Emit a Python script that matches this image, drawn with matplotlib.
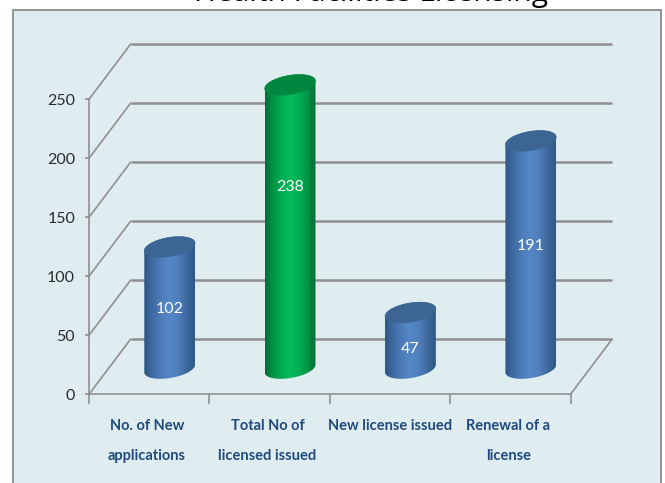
import numpy as np
import matplotlib
matplotlib.use("Agg")
import matplotlib.pyplot as plt
from matplotlib.patches import Polygon, Rectangle
from matplotlib.colors import LinearSegmentedColormap

title = "Health Facilities Licensing"
categories = ["No. of New\napplications", "Total No of\nlicensed issued",
              "New license issued", "Renewal of a\nlicense"]
values = [102, 238, 47, 191]
y_ticks = [0, 50, 100, 150, 200, 250]
is_highlight = [False, True, False, False]

W, H = 665, 483
fig = plt.figure(figsize=(W / 100, H / 100), dpi=100, facecolor="white")

# chart panel (runs off the bottom of the image)
fig.add_artist(Rectangle((13 / W, -0.05), 648 / W, 1.05 - 9.5 / H,
                         transform=fig.transFigure, facecolor="#DFECF0",
                         edgecolor="#8C8C8C", linewidth=1.3, zorder=-5))

# axes = front plane of the 3D box
L, R, B, T = 89.0, 570.5, 394.3, 99.3
ax = fig.add_axes([L / W, 1 - B / H, (R - L) / W, (B - T) / H])
ax.patch.set_alpha(0)
ax.set_xlim(0, 4)
ax.set_ylim(0, 250)
xu = (R - L) / 4       # px per category
yu = (B - T) / 250     # px per value unit
DX, DY = 41.5 / xu, 55.0 / yu  # box depth in data units

FONT = "Lato"
GRID = "#8F8F8F"

for s in ("top", "right"):
    ax.spines[s].set_visible(False)
for s in ("left", "bottom"):
    ax.spines[s].set_color(GRID)
    ax.spines[s].set_linewidth(1.2)

ax.set_yticks(y_ticks)
ax.set_xticks(range(5))
ax.set_xticklabels([])
ax.tick_params(axis="y", length=3, width=1.2, color=GRID, pad=7,
               labelcolor="#2B2B2B", labelsize=11.5)
ax.tick_params(axis="x", length=7, width=1.2, color=GRID)
for lab in ax.get_yticklabels():
    lab.set_family(FONT)

# back wall grid lines and side wall diagonals
for v in y_ticks:
    ax.plot([0, DX], [v, v + DY], color=GRID, lw=1.2, clip_on=False, zorder=1)
    ax.plot([DX, 4 + DX], [v + DY, v + DY], color=GRID, lw=1.8, clip_on=False,
            zorder=1, solid_capstyle="butt")
ax.plot([4, 4 + DX], [0, DY], color=GRID, lw=1.2, clip_on=False, zorder=1)

# cylinders
blue = LinearSegmentedColormap.from_list(
    "b", ["#2C5685", "#3F6CA3", "#4F7DBB", "#5587C8", "#4F7FBC", "#3F6A9F", "#2F5885"])
green = LinearSegmentedColormap.from_list(
    "g", ["#006F38", "#009647", "#00AE52", "#00BC58", "#00AE52", "#009647", "#006B36"])
shade = np.linspace(0, 1, 128).reshape(1, -1)

HW = 25.4 / xu         # half width
SK = 3.8 / yu          # tilt of the ellipses
EB = 9.6 / yu          # half height of the ellipses
BX, BY = 20.5 / xu, 25.8 / yu  # base centre depth offset
FORESHORTEN = 1.01
label_frac = [0.49, 0.64, 0.35, 0.54]

t = np.linspace(0, np.pi, 60)
for i, v in enumerate(values):
    cx = i + 0.5 + BX
    y0, y1 = BY, BY + v * FORESHORTEN
    # lower half of the base ellipse, left to right (left end sits lower)
    bx = cx - HW * np.cos(t)
    by = y0 - SK * np.cos(t) - EB * np.sin(t)
    # lower half of the top ellipse, right to left
    tx = bx[::-1]
    ty = y1 - SK * np.cos(t[::-1]) - EB * np.sin(t[::-1])
    # upper half of the top ellipse, for the cap
    ux = cx - HW * np.cos(t)
    uy = y1 - SK * np.cos(t) + EB * np.sin(t)

    body_top = y1 - SK * np.cos(t[::-1]) + EB * np.sin(t[::-1])
    body = Polygon(np.c_[np.r_[bx, tx], np.r_[by, body_top]], closed=True,
                   transform=ax.transData, facecolor="none", edgecolor="none")
    ax.add_patch(body)
    im = ax.imshow(shade, cmap=green if is_highlight[i] else blue, aspect="auto",
                   extent=(cx - HW, cx + HW, y0 - 2 * EB - SK, y1 + 2 * EB + SK),
                   zorder=3, interpolation="bilinear")
    im.set_clip_box(fig.bbox)
    im.set_clip_path(body)
    cap = np.c_[np.r_[ux, tx], np.r_[uy, ty]]
    ax.add_patch(Polygon(cap, closed=True, zorder=4, clip_on=False, linewidth=0.4,
                         facecolor="#00873F" if is_highlight[i] else "#3C6594",
                         edgecolor="#00873F" if is_highlight[i] else "#3C6594"))
    ax.text(cx, y0 + (y1 - y0) * label_frac[i], str(v), color="white", fontsize=11.5,
            family=FONT, ha="center", va="center", zorder=5)

ax.set_xlim(0, 4)
ax.set_ylim(0, 250)

# category labels, placed on the axis scale below the front plane
for i, c in enumerate(categories):
    for j, line in enumerate(c.split("\n")):
        ax.annotate(line, xy=(i + 0.5, 0), xycoords="data",
                    xytext=(-1.5 if i != 2 else 0, -(32 + 30 * j) * 0.72),
                    textcoords="offset points", ha="center", va="center",
                    fontsize=10.5, fontweight="bold", color="#1F4A7D",
                    family=FONT, annotation_clip=False)

fig.text(371 / W, 1 - 1.5 / H, title, ha="center", va="baseline", fontsize=21.5,
         family="Open Sans", color="black")

fig.savefig("out.png", dpi=100)
